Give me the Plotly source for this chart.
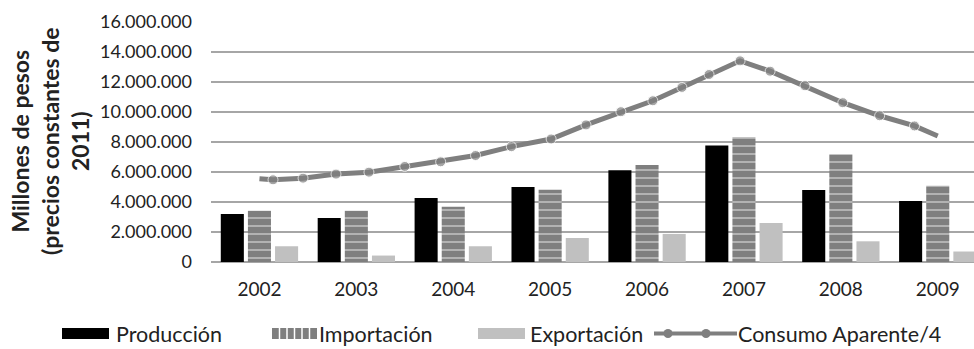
import plotly.graph_objects as go

# Annual series (pesos, constant 2011 prices)
years = [2002, 2003, 2004, 2005, 2006, 2007, 2008, 2009]
produccion = [3.20e6, 2.94e6, 4.27e6, 5.00e6, 6.12e6, 7.76e6, 4.80e6, 4.07e6]
importacion = [3.42e6, 3.42e6, 3.69e6, 4.82e6, 6.46e6, 8.32e6, 7.19e6, 5.08e6]
exportacion = [1.05e6, 0.43e6, 1.05e6, 1.60e6, 1.87e6, 2.60e6, 1.38e6, 0.70e6]

# Apparent consumption / 4, sub-annual observations (fractional year position)
consumo_t = [2002.00, 2002.14, 2002.45, 2002.79, 2003.13, 2003.50, 2003.87, 2004.23,
             2004.60, 2005.01, 2005.37, 2005.73, 2006.06, 2006.36, 2006.64, 2006.96,
             2007.27, 2007.63, 2008.02, 2008.40, 2008.76, 2009.00]
consumo = [5.55e6, 5.48e6, 5.59e6, 5.86e6, 5.99e6, 6.37e6, 6.68e6, 7.10e6,
           7.69e6, 8.20e6, 9.14e6, 10.02e6, 10.75e6, 11.64e6, 12.50e6, 13.41e6,
           12.72e6, 11.75e6, 10.62e6, 9.75e6, 9.07e6, 8.40e6]

y_ticks = [0, 2e6, 4e6, 6e6, 8e6, 10e6, 12e6, 14e6, 16e6]

W, H = 974, 349
ML, MR, MT, MB = 211, 0, 22, 87
FONT = "Lato"
TXT = "#222222"
GRAY = "#7f7f7f"
LIGHT = "#c0c0c0"


def px_x(px):
    return (px - ML) / (W - ML - MR)


def px_y(py):
    return (H - MB - py) / (H - MT - MB)


fig = go.Figure()
fig.add_trace(go.Bar(x=years, y=produccion, name="Producción",
                     marker=dict(color="black", line=dict(width=0))))
fig.add_trace(go.Bar(x=years, y=importacion, name="Importación",
                     marker=dict(color=GRAY, line=dict(width=0),
                                 pattern=dict(shape="-", fillmode="overlay",
                                              fgcolor="white", bgcolor=GRAY,
                                              size=8, solidity=0.2))))
fig.add_trace(go.Bar(x=years, y=exportacion, name="Exportación",
                     marker=dict(color=LIGHT, line=dict(width=0))))

sizes = [0] + [10] * (len(consumo) - 2) + [0]
fig.add_trace(go.Scatter(x=consumo_t, y=consumo, name="Consumo Aparente/4",
                         mode="lines+markers",
                         line=dict(color=GRAY, width=5),
                         marker=dict(color=GRAY, size=sizes, symbol="circle")))

# Legend drawn below the plot
shapes = []
annotations = []
ly0, ly1 = px_y(339), px_y(328)
ly = px_y(333.5)
lfont = dict(family=FONT, size=21.5, color=TXT)

shapes.append(dict(type="rect", xref="paper", yref="paper", x0=px_x(62), x1=px_x(109),
                   y0=ly0, y1=ly1, fillcolor="black", line=dict(width=0)))
annotations.append(dict(text="Producción", x=px_x(114), y=ly, xref="paper", yref="paper",
                        xanchor="left", yanchor="middle", showarrow=False, font=lfont))

shapes.append(dict(type="rect", xref="paper", yref="paper", x0=px_x(272), x1=px_x(317),
                   y0=ly0, y1=ly1, fillcolor=GRAY, line=dict(width=0)))
for k in range(1, 6):
    xs = 272 + k * 7.5
    shapes.append(dict(type="line", xref="paper", yref="paper", x0=px_x(xs), x1=px_x(xs),
                       y0=ly0, y1=ly1, line=dict(color="white", width=1.5)))
annotations.append(dict(text="Importación", x=px_x(317), y=ly, xref="paper", yref="paper",
                        xanchor="left", yanchor="middle", showarrow=False, font=lfont))

shapes.append(dict(type="rect", xref="paper", yref="paper", x0=px_x(478), x1=px_x(525),
                   y0=ly0, y1=ly1, fillcolor=LIGHT, line=dict(width=0)))
annotations.append(dict(text="Exportación", x=px_x(528), y=ly, xref="paper", yref="paper",
                        xanchor="left", yanchor="middle", showarrow=False, font=lfont))

shapes.append(dict(type="line", xref="paper", yref="paper", x0=px_x(654), x1=px_x(737),
                   y0=ly, y1=ly, line=dict(color=GRAY, width=4)))
for mx in (668, 706):
    shapes.append(dict(type="circle", xref="paper", yref="paper",
                       x0=px_x(mx - 4.5), x1=px_x(mx + 4.5),
                       y0=px_y(333.5 + 4.5), y1=px_y(333.5 - 4.5),
                       fillcolor=GRAY, line=dict(width=0)))
annotations.append(dict(text="Consumo Aparente/4", x=px_x(736), y=ly, xref="paper",
                        yref="paper", xanchor="left", yanchor="middle", showarrow=False,
                        font=lfont))

# Vertical axis title
annotations.append(dict(text="<b>Millones de pesos<br>(precios constantes de<br>2011)</b>",
                        x=px_x(50), y=px_y(141), xref="paper", yref="paper",
                        xanchor="center", yanchor="middle", textangle=-90,
                        showarrow=False,
                        font=dict(family=FONT, size=23, color=TXT)))

fig.update_layout(
    width=W, height=H,
    margin=dict(l=ML, r=MR, t=MT, b=MB),
    paper_bgcolor="white", plot_bgcolor="white",
    separators=",.",
    barmode="group", bargap=0.16, bargroupgap=0.15,
    showlegend=False,
    font=dict(family=FONT, size=18, color=TXT),
    shapes=shapes, annotations=annotations,
    xaxis=dict(range=[2001.5, 2001.5 + (W - ML - MR) / 96.9],
               tickvals=years, ticktext=[str(y) for y in years],
               showgrid=False, zeroline=False, showline=False,
               ticks="", ticklabelstandoff=14,
               tickfont=dict(family=FONT, size=19, color=TXT)),
    yaxis=dict(range=[0, 16e6], tickvals=y_ticks, tickformat=",d",
               showgrid=True, gridcolor="#a6a6a6", gridwidth=1.5,
               zeroline=True, zerolinecolor="#a6a6a6", zerolinewidth=1.5,
               showline=False, ticks="", ticklabelstandoff=18,
               tickfont=dict(family=FONT, size=18, color=TXT)),
)

fig.write_html("out.html")
